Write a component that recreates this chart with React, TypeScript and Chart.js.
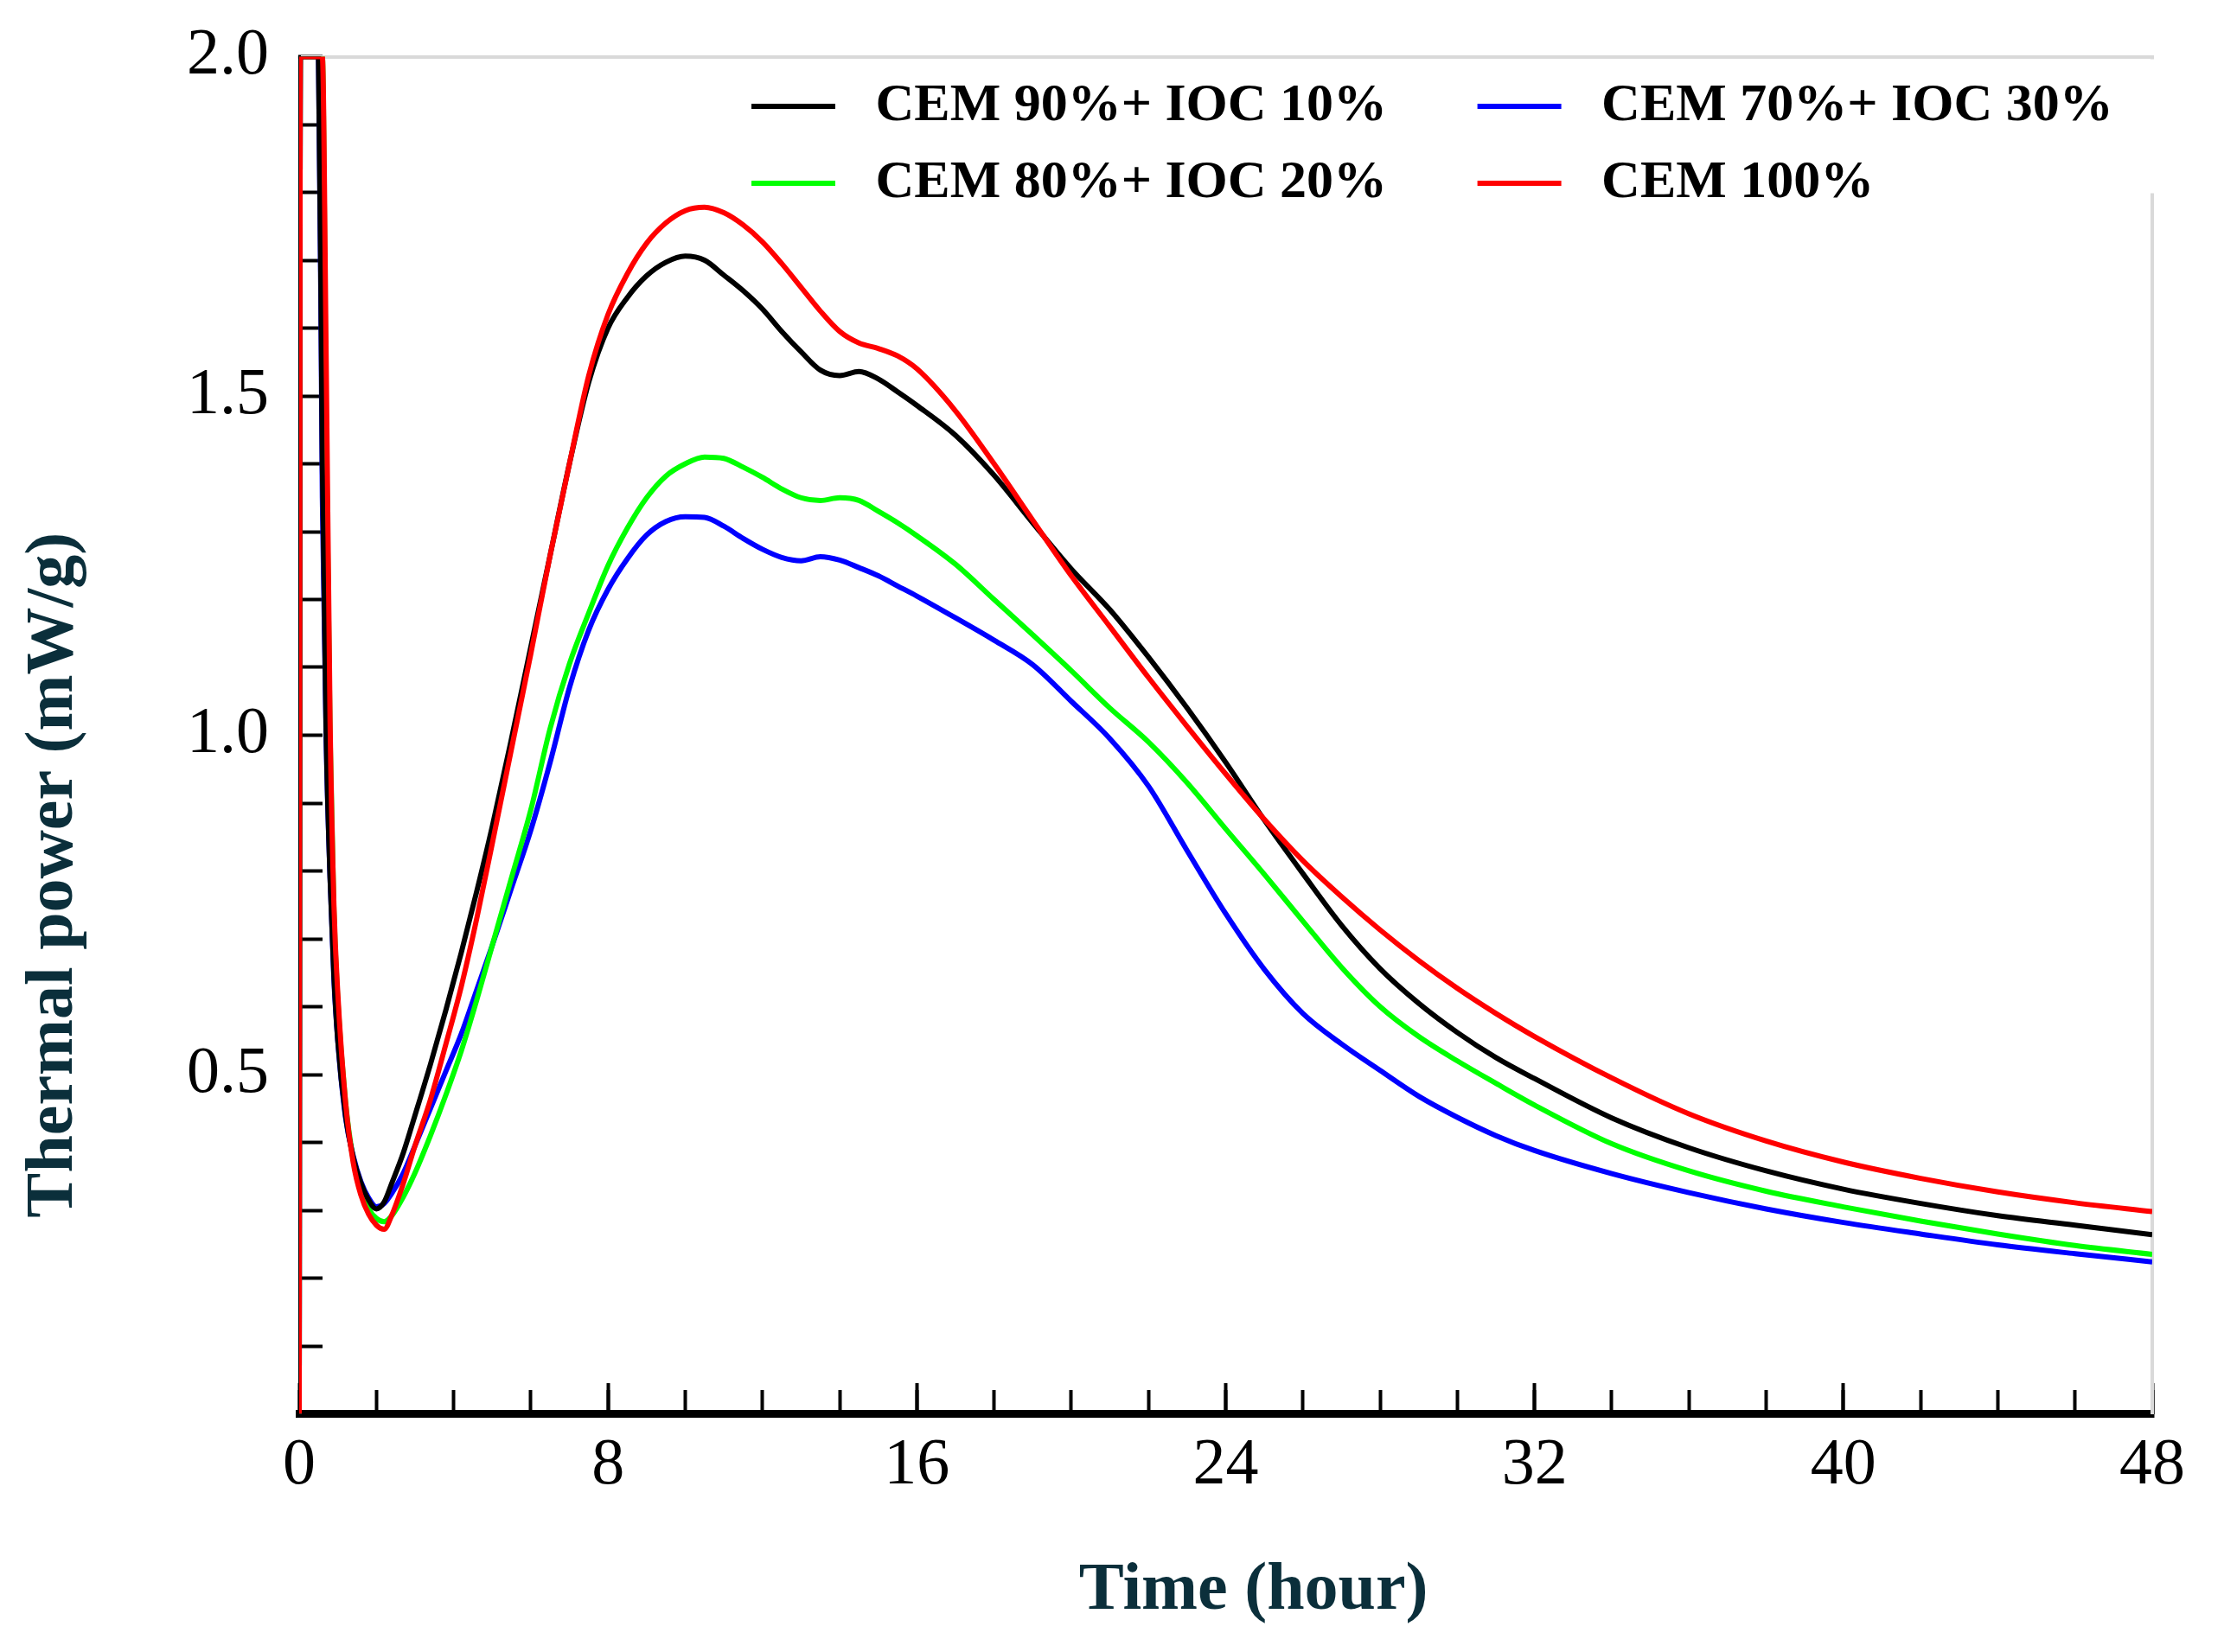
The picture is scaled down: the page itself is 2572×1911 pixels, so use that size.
import { useEffect, useRef } from "react";
import Chart from "chart.js/auto";

// hours since mixing
const hours = [
  0, 0.03, 0.5, 0.6, 0.7, 0.8, 0.9, 1.0, 1.2, 1.4, 1.6, 1.8, 2.0, 2.2, 2.4, 2.7, 3.0,
  3.4, 3.8, 4.2, 4.6, 5.0, 5.5, 6.0, 6.5, 7.0, 7.5, 8.0, 8.5, 9.0, 9.5, 10,
  10.5, 11, 11.5, 12, 12.5, 13, 13.5, 14, 14.5, 15, 15.5, 16,
  17, 18, 19, 20, 21, 22, 23, 24, 25, 26, 27, 28, 29, 30, 31, 32,
  34, 36, 38, 40, 42, 44, 46, 48,
];

// thermal power, mW/g
const cem100 = [
  0, 2.0, 2.0, 2.0, 1.55, 1.02, 0.75, 0.62, 0.46, 0.37, 0.322, 0.294, 0.278, 0.272, 0.293, 0.34, 0.395,
  0.463, 0.545, 0.63, 0.73, 0.84, 0.98, 1.12, 1.265, 1.4, 1.53, 1.62, 1.68, 1.725, 1.755, 1.773,
  1.778, 1.77, 1.752, 1.727, 1.695, 1.66, 1.625, 1.595, 1.578, 1.57, 1.559, 1.54,
  1.478, 1.4, 1.317, 1.235, 1.16, 1.085, 1.013, 0.943, 0.876, 0.815, 0.762, 0.713, 0.668, 0.627, 0.59, 0.556,
  0.495, 0.442, 0.402, 0.371, 0.347, 0.327, 0.311, 0.298,
];
const cem90 = [
  0, 2.0, 2.0, 1.4, 1.0, 0.79, 0.645, 0.55, 0.44, 0.378, 0.34, 0.315, 0.302, 0.312, 0.34, 0.385, 0.44,
  0.515, 0.595, 0.68, 0.77, 0.865, 0.995, 1.13, 1.265, 1.4, 1.52, 1.6, 1.645, 1.677, 1.697, 1.706,
  1.7, 1.678, 1.655, 1.628, 1.595, 1.565, 1.538, 1.53, 1.536, 1.525, 1.506, 1.486,
  1.442, 1.383, 1.313, 1.245, 1.185, 1.115, 1.04, 0.96, 0.875, 0.796, 0.72, 0.656, 0.605, 0.562, 0.525, 0.494,
  0.436, 0.392, 0.358, 0.331, 0.31, 0.292, 0.278, 0.264,
];
const cem80 = [
  0, 2.0, 2.0, 2.0, 1.45, 1.0, 0.74, 0.61, 0.46, 0.375, 0.33, 0.302, 0.288, 0.283, 0.292, 0.32, 0.355,
  0.41, 0.47, 0.535, 0.61, 0.69, 0.79, 0.89, 1.01, 1.105, 1.18, 1.25, 1.305, 1.35, 1.382, 1.4,
  1.41, 1.408, 1.395, 1.38, 1.363, 1.35, 1.346, 1.35, 1.346, 1.33, 1.313, 1.294,
  1.252, 1.2, 1.148, 1.095, 1.04, 0.99, 0.93, 0.862, 0.795, 0.726, 0.658, 0.6, 0.556, 0.52, 0.487, 0.455,
  0.398, 0.358, 0.328, 0.305, 0.284, 0.265, 0.248, 0.235,
];
const cem70 = [
  0, 2.0, 2.0, 1.35, 0.99, 0.79, 0.64, 0.55, 0.437, 0.38, 0.342, 0.318, 0.305, 0.31, 0.325, 0.355, 0.395,
  0.45, 0.505, 0.56, 0.625, 0.69, 0.775, 0.86, 0.96, 1.07, 1.155, 1.215, 1.26, 1.295, 1.315, 1.322,
  1.321, 1.308, 1.29, 1.274, 1.262, 1.257, 1.263, 1.258, 1.247, 1.235, 1.22, 1.205,
  1.173, 1.14, 1.104, 1.05, 0.995, 0.925, 0.83, 0.737, 0.655, 0.59, 0.545, 0.506, 0.468, 0.437, 0.41, 0.388,
  0.354, 0.326, 0.302, 0.282, 0.265, 0.249, 0.236, 0.224,
];

const legendOrder = ["CEM 90%+ IOC 10%", "CEM 70%+ IOC 30%", "CEM 80%+ IOC 20%", "CEM 100%"];
const firstColumn = ["CEM 90%+ IOC 10%", "CEM 80%+ IOC 20%"];
const yTickLabels = ["0.5", "1.0", "1.5", "2.0"];

const FONT = '"Liberation Serif", "Times New Roman", serif';
const TITLE_COLOR = "#0b2f3b";
const X_TITLE = "Time (hour)";
const Y_TITLE = "Thermal power (mW/g)";

const points = (values: number[]) => hours.map((h, i) => ({ x: h, y: values[i] }));

// legend sits inside the plot box, axis titles are off-centre in the original
const decorations = {
  id: "decorations",
  afterLayout(chart: any) {
    const lg = chart.legend;
    if (!lg) return;
    const ca = chart.chartArea;
    lg.left = ca.left + 496;
    lg.right = ca.right;
    lg.width = lg.right - lg.left;
    lg.top = ca.top - 0.5;
    lg.height = 200;
    lg.bottom = lg.top + lg.height;
  },
  afterDraw(chart: any) {
    const { ctx, chartArea } = chart;
    const w = chartArea.right - chartArea.left;
    const h = chartArea.bottom - chartArea.top;
    ctx.save();
    ctx.fillStyle = "#fff";
    ctx.fillRect(chartArea.right - 5, chartArea.top + 3, 10, 155);

    ctx.font = `bold 78px ${FONT}`;
    ctx.fillStyle = TITLE_COLOR;
    ctx.textAlign = "center";
    ctx.textBaseline = "middle";
    ctx.fillText(X_TITLE, chartArea.left + w * 0.515, chartArea.bottom + 205.5);

    ctx.translate(83, chartArea.top + h * 0.603);
    ctx.rotate(-Math.PI / 2);
    ctx.textBaseline = "alphabetic";
    ctx.fillText(Y_TITLE, 0, 0);
    ctx.restore();
  },
};

export default function App() {
  const chartRef = useRef<HTMLCanvasElement>(null);
  const chartInstance = useRef<Chart | null>(null);

  useEffect(() => {
    if (!chartRef.current) return;
    document.body.style.margin = "0";
    document.body.style.overflow = "hidden";

    if (chartInstance.current) {
      chartInstance.current.destroy();
    }

    const ctx = chartRef.current.getContext("2d");
    if (!ctx) return;

    const line = (label: string, values: number[], color: string) => ({
      label,
      data: points(values),
      borderColor: color,
      backgroundColor: color,
      borderWidth: 6,
      pointRadius: 0,
      pointStyle: "line" as const,
      cubicInterpolationMode: "monotone" as const,
      fill: false,
      xAxisID: "x",
      yAxisID: "y",
    });

    chartInstance.current = new Chart(ctx, {
      type: "line",
      data: {
        // first dataset is drawn on top
        datasets: [
          line("CEM 100%", cem100, "#ff0000"),
          line("CEM 90%+ IOC 10%", cem90, "#000000"),
          line("CEM 80%+ IOC 20%", cem80, "#00ff00"),
          line("CEM 70%+ IOC 30%", cem70, "#0000ff"),
        ],
      },
      options: {
        animation: false,
        responsive: false,
        layout: { padding: { left: 0, right: 83, top: 64.5, bottom: 23 } },
        plugins: {
          tooltip: { enabled: false },
          legend: {
            position: "top",
            align: "start",
            fullSize: false,
            maxHeight: 1,
            labels: {
              usePointStyle: true,
              pointStyleWidth: 97,
              padding: 27,
              color: "#000",
              font: { family: FONT, size: 62, weight: "bold" },
              generateLabels: (chart: any) =>
                Chart.defaults.plugins.legend.labels.generateLabels(chart).map((item: any) => ({
                  ...item,
                  text: " " + item.text + (firstColumn.includes(item.text) ? "     " : ""),
                })),
              sort: (a: any, b: any) =>
                legendOrder.indexOf(a.text.trim()) - legendOrder.indexOf(b.text.trim()),
            },
          },
        },
        scales: {
          x: {
            type: "linear",
            axis: "x",
            position: "bottom",
            weight: 1,
            min: 0,
            max: 48,
            afterFit: (s: any) => {
              s.height = 252.5;
              s.paddingLeft = 0;
              s.paddingRight = 0;
            },
            ticks: {
              stepSize: 8,
              autoSkip: false,
              maxRotation: 0,
              padding: 50.4,
              color: "#000",
              font: { family: FONT, size: 76 },
            },
            grid: { drawOnChartArea: false, tickLength: -35.5, tickWidth: 4, tickColor: "#000" },
            border: { color: "#000", width: 9 },
          },
          xMinor: {
            type: "linear",
            axis: "x",
            position: "bottom",
            weight: 0,
            min: 0,
            max: 48,
            afterFit: (s: any) => {
              s.height = 0;
            },
            ticks: { display: false, stepSize: 2 },
            grid: { drawOnChartArea: false, tickLength: -27.5, tickWidth: 4, tickColor: "#000" },
            border: { display: false },
          },
          xTop: {
            type: "linear",
            axis: "x",
            position: "top",
            min: 0,
            max: 48,
            afterFit: (s: any) => {
              s.height = 0;
            },
            ticks: { display: false },
            grid: { display: false },
            border: { color: "#d9d9d9", width: 4 },
          },
          y: {
            type: "linear",
            axis: "y",
            position: "left",
            min: 0,
            max: 2,
            afterFit: (s: any) => {
              s.width = 346;
              s.paddingTop = 0;
              s.paddingBottom = 0;
            },
            ticks: {
              stepSize: 0.1,
              autoSkip: false,
              padding: 62,
              color: "#000",
              font: { family: FONT, size: 76 },
              callback: (v: any) => {
                const label = (Math.round(Number(v) * 10) / 10).toFixed(1);
                return yTickLabels.includes(label) ? label : "";
              },
            },
            grid: { drawOnChartArea: false, tickLength: -27, tickWidth: 4, tickColor: "#000" },
            border: { color: "#000", width: 3 },
          },
          yRight: {
            type: "linear",
            axis: "y",
            position: "right",
            min: 0,
            max: 2,
            afterFit: (s: any) => {
              s.width = 0;
            },
            ticks: { display: false },
            grid: { display: false },
            border: { color: "#d9d9d9", width: 4 },
          },
        },
      },
      plugins: [decorations],
    } as any);

    return () => {
      if (chartInstance.current) {
        chartInstance.current.destroy();
        chartInstance.current = null;
      }
    };
  }, []);

  return <canvas ref={chartRef} width={2572} height={1911} style={{ display: "block" }} />;
}
